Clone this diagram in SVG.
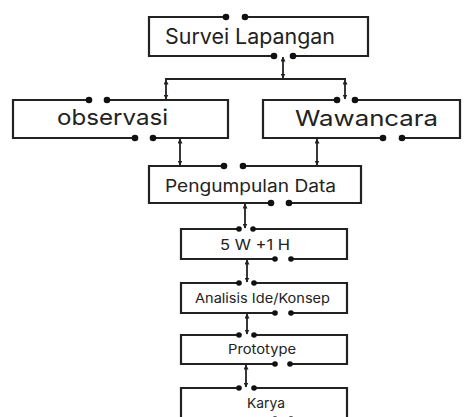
<svg xmlns="http://www.w3.org/2000/svg" width="465" height="417" viewBox="0 0 465 417">
<defs>
<marker id="ah" viewBox="0 0 10 10" refX="9" refY="5" markerWidth="5" markerHeight="5" orient="auto-start-reverse" markerUnits="userSpaceOnUse">
<path d="M0,0 L10,5 L0,10 Z" fill="#222"/>
</marker>
<style>
.b{fill:none;stroke:#222;stroke-width:2.2}
.d{fill:#111}
.c{fill:none;stroke:#222;stroke-width:1.8;marker-start:url(#ah);marker-end:url(#ah)}
.t{font-family:"Inter","Noto Sans","Liberation Sans",sans-serif;fill:#222;text-anchor:middle}
</style>
</defs>
<rect width="465" height="417" fill="#fff"/>
<g id="connectors">
<line class="c" x1="283" y1="57" x2="283" y2="78"/>
<line x1="165" y1="79" x2="346" y2="79" stroke="#222" stroke-width="2"/>
<line class="c" x1="166" y1="80" x2="166" y2="99"/>
<line class="c" x1="345" y1="80" x2="345" y2="99"/>
<line class="c" x1="180" y1="139" x2="180" y2="165"/>
<line class="c" x1="317" y1="139" x2="317" y2="165"/>
<line class="c" x1="245" y1="204" x2="245" y2="228"/>
<line class="c" x1="247" y1="260" x2="247" y2="282"/>
<line class="c" x1="247" y1="314" x2="247" y2="334"/>
<line class="c" x1="246" y1="365" x2="246" y2="387"/>
</g>
<g id="survei">
<path class="b" d="M226,17 H149 V56 H274 M293,56 H368 V17 H245"/>
<circle class="d" cx="226" cy="17" r="3.3"/><circle class="d" cx="245" cy="17" r="3.3"/>
<circle class="d" cx="274" cy="56" r="3.3"/><circle class="d" cx="293" cy="56" r="3.3"/>
<text class="t" x="250" y="44" font-size="21" textLength="170" lengthAdjust="spacingAndGlyphs">Survei Lapangan</text>
</g>
<g id="observasi">
<path class="b" d="M89,100 H13 V138 H135 M153,138 H228 V100 H107"/>
<circle class="d" cx="89" cy="100" r="3.3"/><circle class="d" cx="107" cy="100" r="3.3"/>
<circle class="d" cx="135" cy="138" r="3.3"/><circle class="d" cx="153" cy="138" r="3.3"/>
<text class="t" x="112.5" y="125" font-size="22" textLength="111" lengthAdjust="spacingAndGlyphs">observasi</text>
</g>
<g id="wawancara">
<path class="b" d="M337,100 H263 V138 H383 M402,138 H460 V100 H355"/>
<circle class="d" cx="337" cy="100" r="3.3"/><circle class="d" cx="355" cy="100" r="3.3"/>
<circle class="d" cx="383" cy="138" r="3.3"/><circle class="d" cx="402" cy="138" r="3.3"/>
<text class="t" x="366.5" y="126" font-size="22" textLength="143" lengthAdjust="spacingAndGlyphs">Wawancara</text>
</g>
<g id="pengumpulan">
<path class="b" d="M224,166 H149 V203 H271 M289,203 H361 V166 H243"/>
<circle class="d" cx="224" cy="166" r="3.3"/><circle class="d" cx="243" cy="166" r="3.3"/>
<circle class="d" cx="271" cy="203" r="3.3"/><circle class="d" cx="289" cy="203" r="3.3"/>
<text class="t" x="250.5" y="192" font-size="17" textLength="171" lengthAdjust="spacingAndGlyphs">Pengumpulan Data</text>
</g>
<g id="fivew">
<path class="b" d="M239,229 H181 V259 H275 M291,259 H347 V229 H253"/>
<circle class="d" cx="239" cy="229" r="2.8"/><circle class="d" cx="253" cy="229" r="2.8"/>
<circle class="d" cx="275" cy="259" r="2.8"/><circle class="d" cx="291" cy="259" r="2.8"/>
<text class="t" x="255" y="250" font-size="15" textLength="70" lengthAdjust="spacingAndGlyphs">5 W +1 H</text>
</g>
<g id="analisis">
<path class="b" d="M239,283 H181 V313 H275 M291,313 H347 V283 H254"/>
<circle class="d" cx="239" cy="283" r="2.8"/><circle class="d" cx="254" cy="283" r="2.8"/>
<circle class="d" cx="275" cy="313" r="2.8"/><circle class="d" cx="291" cy="313" r="2.8"/>
<text class="t" x="262.5" y="303" font-size="13.5" textLength="135" lengthAdjust="spacingAndGlyphs">Analisis Ide/Konsep</text>
</g>
<g id="prototype">
<path class="b" d="M239,335 H181 V364 H275 M290,364 H347 V335 H254"/>
<circle class="d" cx="239" cy="335" r="2.8"/><circle class="d" cx="254" cy="335" r="2.8"/>
<circle class="d" cx="275" cy="364" r="2.8"/><circle class="d" cx="290" cy="364" r="2.8"/>
<text class="t" x="262" y="354" font-size="13.5" textLength="68" lengthAdjust="spacingAndGlyphs">Prototype</text>
</g>
<g id="karya">
<path class="b" d="M239,388 H181 V420 H275 M291,420 H347 V388 H254"/>
<circle class="d" cx="239" cy="388" r="2.8"/><circle class="d" cx="254" cy="388" r="2.8"/>
<circle class="d" cx="275" cy="419" r="2.8"/><circle class="d" cx="291" cy="419" r="2.8"/>
<text class="t" x="266" y="408" font-size="13.5" textLength="38" lengthAdjust="spacingAndGlyphs">Karya</text>
</g>
</svg>
